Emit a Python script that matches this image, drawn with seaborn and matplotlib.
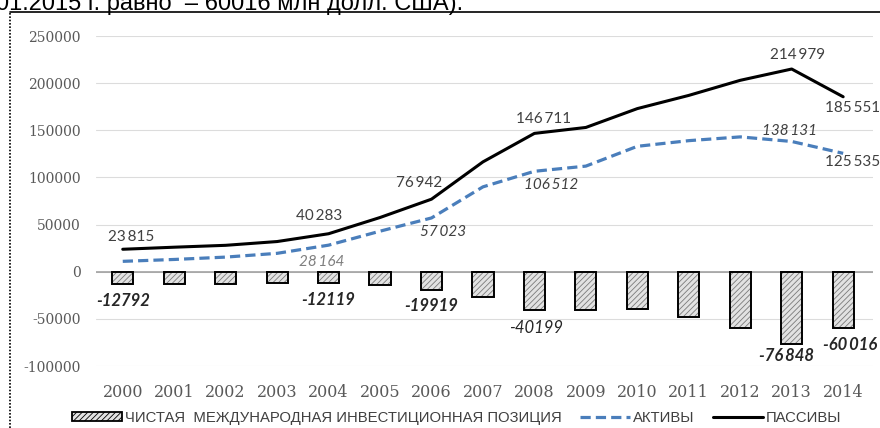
import numpy as np
import pandas as pd
import matplotlib
matplotlib.use("Agg")
import matplotlib.pyplot as plt
from matplotlib.patches import Patch
from matplotlib.lines import Line2D
import seaborn as sns

# Data (mln USD)
years = [str(y) for y in range(2000, 2015)]
liabilities = [23815, 26000, 28000, 32000, 40283, 57500, 76942, 116500, 146711,
               153000, 173000, 187000, 203000, 214979, 185551]
assets = [11000, 13000, 15500, 19500, 28164, 43000, 57023, 90000, 106512,
          112000, 133000, 139000, 143000, 138131, 125535]
net_position = [-12792, -13000, -12500, -12000, -12119, -14500, -19919, -27000, -40199,
                -41000, -39700, -48500, -60000, -76848, -60016]

legend_labels = ["ЧИСТАЯ  МЕЖДУНАРОДНАЯ ИНВЕСТИЦИОННАЯ ПОЗИЦИЯ", "АКТИВЫ", "ПАССИВЫ"]
title_text = "01.2015 г. равно  – 60016 млн долл. США)."

# which points get a value label, and where (offset in pixels)
liab_marks = {0: (8, 12), 4: (-9, 18), 6: (-12, 16), 8: (9, 14), 13: (6, 14)}
asset_marks = {4: (-7, -17), 6: (12, -14), 8: (17, -14), 13: (-2, 10)}
net_marks = {0: (0, -17), 4: (0, -17), 6: (0, -16), 8: (2, -18), 13: (-5, -12)}
spaced_net = {13, 14}


def fmt(v, spaced=True):
    s = f"{v:,}"
    return s.replace(",", "\u2009" if spaced else "")


sns.set_style("white")
plt.rcParams["font.family"] = ["DejaVu Sans"]
plt.rcParams["hatch.linewidth"] = 0.6

fig = plt.figure(figsize=(8.8, 4.28), dpi=100)
ax = fig.add_axes([96 / 880, 1 - 366 / 428, (873 - 96) / 880, (366 - 36) / 428])

df = pd.DataFrame({"year": years, "net": net_position})
# hatched fill, then a black outline on top
sns.barplot(data=df, x="year", y="net", ax=ax, color="#e2e2e2", saturation=1,
            width=0.41, edgecolor="#7a7a7a", linewidth=0, hatch="//////", zorder=3)
sns.barplot(data=df, x="year", y="net", ax=ax, color="black", saturation=1,
            width=0.41, fill=False, linewidth=1.4, zorder=3)

xs = np.arange(len(years))
sns.lineplot(x=xs, y=assets, ax=ax, color="#4a7ebb", linewidth=2.3,
             linestyle=(0, (3.2, 1.6)), zorder=4)
sns.lineplot(x=xs, y=liabilities, ax=ax, color="black", linewidth=2.2, zorder=5)

ax.set_ylim(-100000, 250000)
ax.set_xlim(-0.52, 14.58)
ax.set_yticks(np.arange(-100000, 250001, 50000))
ax.set_yticklabels([str(t) for t in range(-100000, 250001, 50000)],
                   family="DejaVu Serif", fontsize=10, color="#595959")
ax.set_xticks(xs)
ax.set_xticklabels(years, family="DejaVu Serif", fontsize=11.5, color="#595959")
ax.tick_params(axis="y", length=0, pad=11)
ax.tick_params(axis="x", length=0, pad=13)
ax.set_xlabel("")
ax.set_ylabel("")
for s in ax.spines.values():
    s.set_visible(False)
ax.grid(axis="y", color="#dcdcdc", linewidth=0.8, zorder=0)
ax.axhline(0, color="#9a9a9a", linewidth=1.1, zorder=2)

lab = dict(family="Lato", fontsize=11, textcoords="offset pixels",
           ha="center", va="center", annotation_clip=False)
for i, (dx, dy) in liab_marks.items():
    ax.annotate(fmt(liabilities[i]), (i, liabilities[i]), xytext=(dx, dy),
                color="#404040", **lab)
ax.annotate(fmt(liabilities[14]), (14, liabilities[14]), xytext=(-18, -11),
            color="#404040", **{**lab, "ha": "left"})
for i, (dx, dy) in asset_marks.items():
    ax.annotate(fmt(assets[i]), (i, assets[i]), xytext=(dx, dy),
                color="#7f7f7f" if i == 4 else "#404040", style="italic", **lab)
ax.annotate(fmt(assets[14]), (14, assets[14]), xytext=(-18, -9),
            color="#404040", **{**lab, "ha": "left"})
netlab = {**lab, "fontsize": 12}
for i, (dx, dy) in net_marks.items():
    ax.annotate(fmt(net_position[i], i in spaced_net), (i, net_position[i]),
                xytext=(dx, dy), color="#262626", style="italic",
                weight="normal" if i == 8 else "bold", **netlab)
ax.annotate(fmt(net_position[14], True), (14, net_position[14]), xytext=(-20, -17),
            color="#262626", style="italic", weight="bold", **{**netlab, "ha": "left"})

handles = [
    Patch(facecolor="#e2e2e2", edgecolor="black", hatch="//////", linewidth=1.3),
    Line2D([], [], color="#4a7ebb", linewidth=2.3, linestyle=(0, (3.2, 1.6))),
    Line2D([], [], color="black", linewidth=2.2),
]
fig.legend(handles, legend_labels, loc="center", bbox_to_anchor=(0.519, 1 - 418 / 428),
           ncol=3, frameon=False, handlelength=3.4, handleheight=0.6,
           handletextpad=0.2, columnspacing=1.2,
           prop={"family": "Liberation Sans", "size": 10.7}, labelcolor="#404040")

# outer frame of the figure in the source document
fig.add_artist(Line2D([10 / 880, 1], [1 - 12 / 428] * 2, color="black", linewidth=1.2,
                      transform=fig.transFigure))
fig.add_artist(Line2D([10 / 880] * 2, [0, 1 - 12 / 428], color="black", linewidth=1.2,
                      linestyle=(0, (1, 1)), transform=fig.transFigure))

fig.text(-0.004, 1 - 10 / 428, title_text, family="Liberation Sans", fontsize=17,
         ha="left", va="baseline", color="black")

fig.savefig("out.png", dpi=100)
